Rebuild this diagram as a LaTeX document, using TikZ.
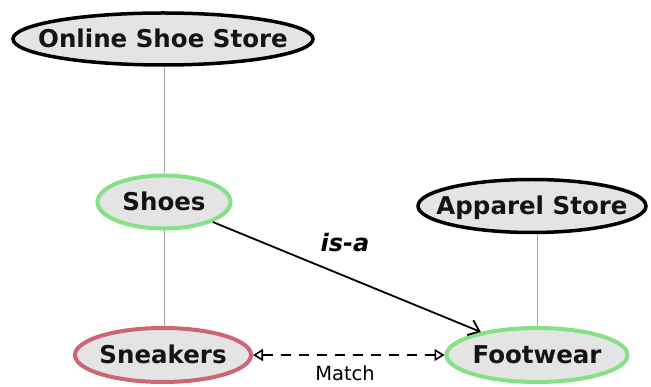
\documentclass[tikz,border=0pt]{standalone}
\usepackage{fontspec}
\setmainfont{DejaVu Sans}
\usetikzlibrary{shapes.geometric,arrows.meta}
\definecolor{nodefill}{HTML}{E4E4E4}
\definecolor{greenedge}{HTML}{86E086}
\definecolor{rededge}{HTML}{CC6677}
\definecolor{linegray}{HTML}{A8A8A8}
\newcommand{\ctext}[1]{\makebox[0pt]{\raisebox{-0.36em}[0pt][0pt]{#1}}}
\tikzset{
  concept/.style={ellipse, fill=nodefill, line width=3.5pt, inner sep=0pt,
    font=\fontsize{24.5}{27}\selectfont\bfseries, text=black!92},
  store/.style={concept, draw=black},
  good/.style={concept, draw=greenedge, line width=4pt},
  bad/.style={concept, draw=rededge, line width=4pt},
  link/.style={draw=linegray, line width=1pt},
  opentip/.tip={Triangle[open,length=10pt,width=12pt,line width=1.6pt]},
}
\begin{document}
\begin{tikzpicture}[x=1pt,y=-1pt]
\useasboundingbox (0,0) rectangle (651,387);
\node[store, minimum width=300pt, minimum height=52pt] (oss) at (163,39) {\ctext{Online Shoe Store}};
\node[good, minimum width=133pt, minimum height=53pt] (shoes) at (164,202) {\ctext{Shoes}};
\node[store, minimum width=228pt, minimum height=53pt] (app) at (532,206) {\ctext{Apparel Store}};
\node[bad, minimum width=176pt, minimum height=54pt] (sneak) at (163,355) {\ctext{Sneakers}};
\node[good, minimum width=181pt, minimum height=54pt] (foot) at (537,355) {\ctext{Footwear}};
\draw[link] (oss.south -| shoes.north) -- (shoes.north);
\draw[link] (shoes.south) -- (sneak.north -| shoes.south);
\draw[link] (foot.north) -- (foot.north |- app.south);
\draw[line width=1.8pt, -{Straight Barb[length=10pt,width=16pt,line width=1.8pt]}] (shoes) -- (foot);
\node[font=\fontsize{24}{27}\selectfont\bfseries\itshape] (isa) at (345,243) {is-a};
\draw[line width=1.6pt, dash pattern=on 10pt off 8pt, opentip-opentip] (sneak) -- (foot);
\node[font=\fontsize{19.5}{22}\selectfont, anchor=base] (match) at (345,381) {Match};
\end{tikzpicture}
\end{document}
